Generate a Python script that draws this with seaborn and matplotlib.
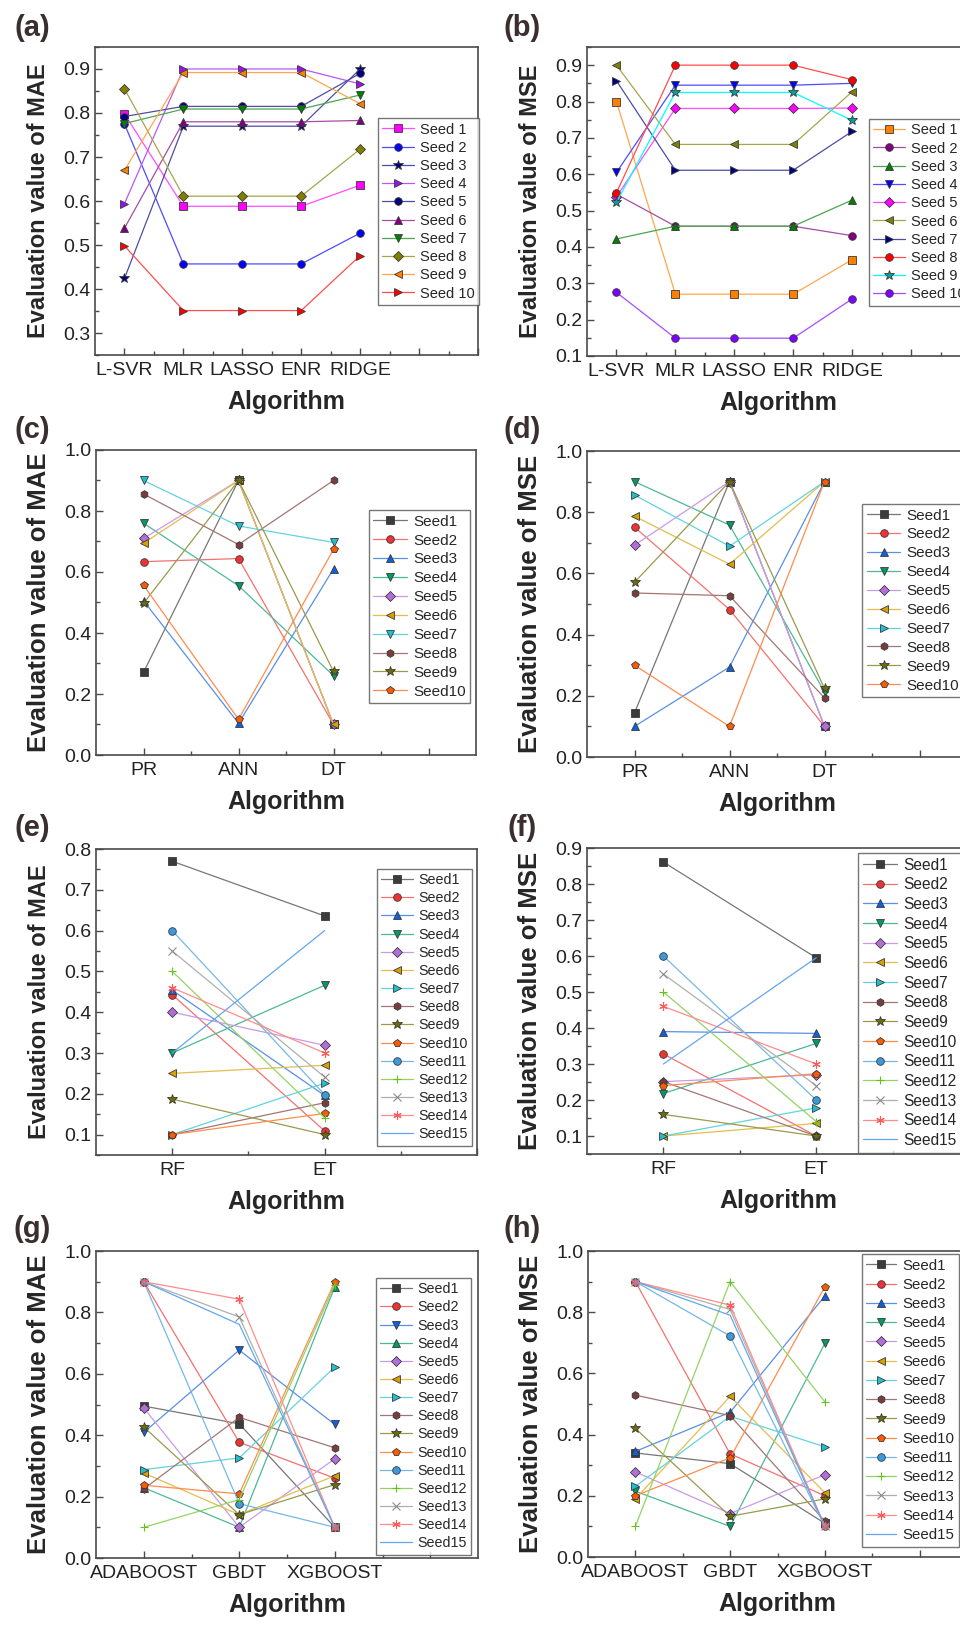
import numpy as np
import pandas as pd
import matplotlib
matplotlib.use("Agg")
import matplotlib.pyplot as plt
import matplotlib.colors as mcolors
from matplotlib.ticker import MultipleLocator, FormatStrFormatter
import seaborn as sns

# ---------------- data ----------------
LINEAR_ALGOS = ["L-SVR", "MLR", "LASSO", "ENR", "RIDGE"]
NN_ALGOS = ["PR", "ANN", "DT"]
BAG_ALGOS = ["RF", "ET"]
BOOST_ALGOS = ["ADABOOST", "GBDT", "XGBOOST"]

SEEDS_10_SP = [f"Seed {i}" for i in range(1, 11)]
SEEDS_10 = [f"Seed{i}" for i in range(1, 11)]
SEEDS_15 = [f"Seed{i}" for i in range(1, 16)]

# (a) MAE of linear models
mae_linear = [
    [0.798, 0.588, 0.588, 0.588, 0.636],
    [0.775, 0.457, 0.457, 0.457, 0.527],
    [0.424, 0.770, 0.770, 0.770, 0.900],
    [0.594, 0.900, 0.900, 0.900, 0.866],
    [0.792, 0.815, 0.815, 0.815, 0.890],
    [0.538, 0.780, 0.780, 0.780, 0.783],
    [0.776, 0.809, 0.809, 0.809, 0.841],
    [0.855, 0.611, 0.611, 0.611, 0.718],
    [0.670, 0.892, 0.892, 0.892, 0.821],
    [0.498, 0.351, 0.351, 0.351, 0.476],
]
# (b) MSE of linear models
mse_linear = [
    [0.800, 0.270, 0.270, 0.270, 0.365],
    [0.545, 0.457, 0.457, 0.457, 0.431],
    [0.422, 0.457, 0.457, 0.457, 0.529],
    [0.605, 0.845, 0.845, 0.845, 0.850],
    [0.538, 0.781, 0.781, 0.781, 0.782],
    [0.900, 0.682, 0.682, 0.682, 0.827],
    [0.857, 0.611, 0.611, 0.611, 0.718],
    [0.549, 0.900, 0.900, 0.900, 0.860],
    [0.523, 0.825, 0.825, 0.825, 0.748],
    [0.275, 0.149, 0.149, 0.149, 0.257],
]
# (c) MAE of PR / ANN / DT
mae_nn = [
    [0.271, 0.900, 0.100],
    [0.634, 0.644, 0.100],
    [0.506, 0.104, 0.610],
    [0.760, 0.555, 0.260],
    [0.710, 0.900, 0.100],
    [0.694, 0.900, 0.100],
    [0.900, 0.751, 0.697],
    [0.856, 0.690, 0.900],
    [0.497, 0.900, 0.274],
    [0.557, 0.117, 0.674],
]
# (d) MSE of PR / ANN / DT
mse_nn = [
    [0.144, 0.900, 0.100],
    [0.751, 0.482, 0.100],
    [0.100, 0.294, 0.900],
    [0.900, 0.758, 0.213],
    [0.692, 0.900, 0.100],
    [0.787, 0.630, 0.900],
    [0.856, 0.689, 0.900],
    [0.536, 0.527, 0.193],
    [0.571, 0.900, 0.224],
    [0.300, 0.100, 0.900],
]
# (e) MAE of RF / ET
mae_bag = [
    [0.770, 0.636], [0.443, 0.109], [0.454, 0.196], [0.300, 0.466],
    [0.400, 0.319], [0.250, 0.270], [0.100, 0.226], [0.100, 0.178],
    [0.187, 0.100], [0.100, 0.152], [0.600, 0.198], [0.500, 0.141],
    [0.550, 0.241], [0.460, 0.300], [0.300, 0.600],
]
# (f) MSE of RF / ET
mse_bag = [
    [0.861, 0.595], [0.328, 0.100], [0.390, 0.385], [0.218, 0.357],
    [0.251, 0.270], [0.100, 0.135], [0.100, 0.178], [0.251, 0.100],
    [0.160, 0.100], [0.240, 0.273], [0.600, 0.200], [0.500, 0.140],
    [0.550, 0.240], [0.460, 0.300], [0.300, 0.595],
]
# (g) MAE of boosting models
mae_boost = [
    [0.495, 0.437, 0.100], [0.900, 0.377, 0.260], [0.409, 0.677, 0.435],
    [0.229, 0.100, 0.883], [0.489, 0.100, 0.323], [0.277, 0.141, 0.268],
    [0.288, 0.326, 0.622], [0.225, 0.458, 0.359], [0.427, 0.141, 0.239],
    [0.237, 0.209, 0.900], [0.900, 0.177, 0.100], [0.100, 0.190, 0.890],
    [0.900, 0.785, 0.100], [0.900, 0.843, 0.100], [0.900, 0.761, 0.100],
]
# (h) MSE of boosting models
mse_boost = [
    [0.340, 0.305, 0.110], [0.900, 0.337, 0.200], [0.345, 0.473, 0.853],
    [0.215, 0.100, 0.698], [0.278, 0.142, 0.269], [0.190, 0.525, 0.210],
    [0.231, 0.460, 0.360], [0.529, 0.462, 0.117], [0.420, 0.133, 0.190],
    [0.200, 0.324, 0.883], [0.900, 0.722, 0.100], [0.100, 0.900, 0.507],
    [0.900, 0.809, 0.100], [0.900, 0.823, 0.100], [0.900, 0.790, 0.100],
]

# ---------------- styles ----------------
COLORS_A = ["#FF00FF", "#0000FF", "#000080", "#9A10F0", "#000080",
            "#800080", "#008000", "#808000", "#FF8000", "#FF0000"]
MARKERS_A = ["s", "o", "*", ">", "o", "^", "v", "D", "<", ">"]
COLORS_B = ["#FF8000", "#800080", "#008000", "#0000FF", "#FF00FF",
            "#808000", "#000080", "#FF0000", "#00A0A0", "#8000FF"]
MARKERS_B = ["s", "o", "^", "v", "D", "<", ">", "o", "*", "o"]
COLORS_15 = ["#3C3C3C", "#F03232", "#1060D8", "#009A68", "#B46EDC",
             "#D8A000", "#1EC0D0", "#7A3C3C", "#6E6E00", "#FF5A00",
             "#3A9ADC", "#66C020", "#8C8C8C", "#FF5A5A", "#1E80E8"]
MARKERS_C = ["s", "o", "^", "v", "D", "<", "v", "h", "*", "p"]
MARKERS_D = ["s", "o", "^", "v", "D", "<", ">", "h", "*", "p"]
MARKERS_EF = ["s", "o", "^", "v", "D", "<", ">", "h", "*", "p",
              "o", "+", "x", (6, 2, 0), None]
MARKERS_G = ["s", "o", "v", "^", "D", "<", ">", "h", "*", "p",
             "o", "+", "x", (6, 2, 0), None]
EDGE = "#3A3A3A"
FRAME = "#4A4A4A"

W, H = 960, 1626

sns.set_theme(style="ticks")
plt.rcParams["font.family"] = ["Liberation Sans", "DejaVu Sans"]
plt.rcParams["axes.linewidth"] = 1.2


def lighten(c, f):
    r, g, b = mcolors.to_rgb(c)
    return (r + (1 - r) * f, g + (1 - g) * f, b + (1 - b) * f)


def draw_panel(box, algos, values, seeds, markers, colors, ylim, ystep,
               xmax, ylabel, letter, leg_xy, leg_fs, leg_sp, ylab_fs,
               line_overrides=None, handle_len=2.2):
    x0, y0, x1, y1 = box
    ax = fig.add_axes([x0 / W, 1 - y1 / H, (x1 - x0) / W, (y1 - y0) / H])
    handles = []
    for i, seed in enumerate(seeds):
        df = pd.DataFrame({"Algorithm": algos, "value": values[i]})
        lc = lighten(colors[i], 0.3)
        if line_overrides and i in line_overrides:
            lc = line_overrides[i]
        kw = dict(color=lc, linewidth=0.9, label=seed)
        m = markers[i]
        if m is not None:
            ms = 7.5 if m == "*" else 5.5
            if m in ("+", "x") or isinstance(m, tuple):
                kw.update(marker=m, markersize=6, markeredgecolor=colors[i],
                          markeredgewidth=0.8)
            else:
                kw.update(marker=m, markersize=ms, markerfacecolor=colors[i],
                          markeredgecolor=EDGE, markeredgewidth=0.6)
        sns.lineplot(data=df, x="Algorithm", y="value", sort=False,
                     legend=False, ax=ax, **kw)
        handles.append(ax.lines[-1])

    n_major = int(np.floor(xmax)) + 1
    ax.set_xlim(-0.5, xmax)
    ax.set_xticks(list(range(n_major)), algos + [""] * (n_major - len(algos)))
    ax.set_xticks(np.arange(0.5, xmax - 0.01, 1.0), minor=True)
    ax.set_ylim(*ylim)
    ax.yaxis.set_major_locator(MultipleLocator(ystep))
    ax.yaxis.set_minor_locator(MultipleLocator(ystep / 2))
    ax.yaxis.set_major_formatter(FormatStrFormatter("%.1f"))
    ax.tick_params(which="both", direction="in", color=FRAME, width=1.0,
                   labelsize=14, labelcolor="#222222")
    ax.tick_params(which="major", length=5)
    ax.tick_params(which="minor", length=3)
    ax.tick_params(axis="x", which="major", pad=5)
    ax.tick_params(axis="y", which="major", pad=3.5)
    for sp in ax.spines.values():
        sp.set_visible(True)
        sp.set_color(FRAME)
        sp.set_linewidth(1.2)

    ax.set_xlabel("Algorithm", fontsize=18, fontweight="bold", labelpad=8)
    ax.set_ylabel(ylabel, fontsize=ylab_fs, fontweight="bold", labelpad=9)

    leg = ax.legend(handles=handles, labels=seeds, loc="upper left",
                    bbox_to_anchor=leg_xy, frameon=True, fancybox=False,
                    edgecolor="#555555", fontsize=leg_fs, labelspacing=leg_sp,
                    handlelength=handle_len, handletextpad=0.4, borderpad=0.3,
                    borderaxespad=0.0)
    leg.get_frame().set_linewidth(1.0)

    lx = 32 if x0 < 480 else 522
    ly = {47: 28, 450: 430, 451: 430, 849: 828, 848: 828,
          1251: 1229}.get(y0, y0 - 20)
    fig.text(lx / W, 1 - ly / H, letter, fontsize=21, fontweight="bold",
             color="#3B2E2E", ha="center", va="center")
    return ax


fig = plt.figure(figsize=(W / 100, H / 100), dpi=100)

draw_panel((95, 47, 478, 355), LINEAR_ALGOS, mae_linear, SEEDS_10_SP,
           MARKERS_A, COLORS_A, (0.25, 0.95), 0.1, 6.0,
           "Evaluation value of MAE", "(a)", (0.739, 0.769), 10.5, 0.29, 17)
draw_panel((587, 47, 970, 356), LINEAR_ALGOS, mse_linear, SEEDS_10_SP,
           MARKERS_B, COLORS_B, (0.1, 0.95), 0.1, 6.0,
           "Evaluation value of MSE", "(b)", (0.736, 0.767), 10.5, 0.29, 17,
           line_overrides={8: "#00FFFF"})
draw_panel((96, 450, 476, 755), NN_ALGOS, mae_nn, SEEDS_10,
           MARKERS_C, COLORS_15, (0.0, 1.0), 0.2, 3.5,
           "Evaluation value of MAE", "(c)", (0.718, 0.803), 11, 0.32, 18.5)
draw_panel((587, 451, 967, 757), NN_ALGOS, mse_nn, SEEDS_10,
           MARKERS_D, COLORS_15, (0.0, 1.0), 0.2, 3.5,
           "Evaluation value of MSE", "(d)", (0.724, 0.827), 11, 0.32, 18.5)
draw_panel((96, 849, 477, 1155), BAG_ALGOS, mae_bag, SEEDS_15,
           MARKERS_EF, COLORS_15, (0.05, 0.8), 0.1, 2.0,
           "Evaluation value of MAE", "(e)", (0.738, 0.935), 10.3, 0.29, 17)
draw_panel((587, 848, 969, 1154), BAG_ALGOS, mse_bag, SEEDS_15,
           MARKERS_EF, COLORS_15, (0.05, 0.9), 0.1, 2.0,
           "Evaluation value of MSE", "(f)", (0.709, 0.984), 11.2, 0.3, 18.5)
draw_panel((96, 1251, 478, 1558), BOOST_ALGOS, mae_boost, SEEDS_15,
           MARKERS_G, COLORS_15, (0.0, 1.0), 0.2, 3.5,
           "Evaluation value of MAE", "(g)", (0.733, 0.912), 10.3, 0.29, 18.5)
draw_panel((588, 1251, 967, 1557), BOOST_ALGOS, mse_boost, SEEDS_15,
           MARKERS_EF, COLORS_15, (0.0, 1.0), 0.2, 3.5,
           "Evaluation value of MSE", "(h)", (0.722, 0.99), 10.8, 0.35, 18.5,
           handle_len=2.0)

fig.savefig("out.png", dpi=100)
